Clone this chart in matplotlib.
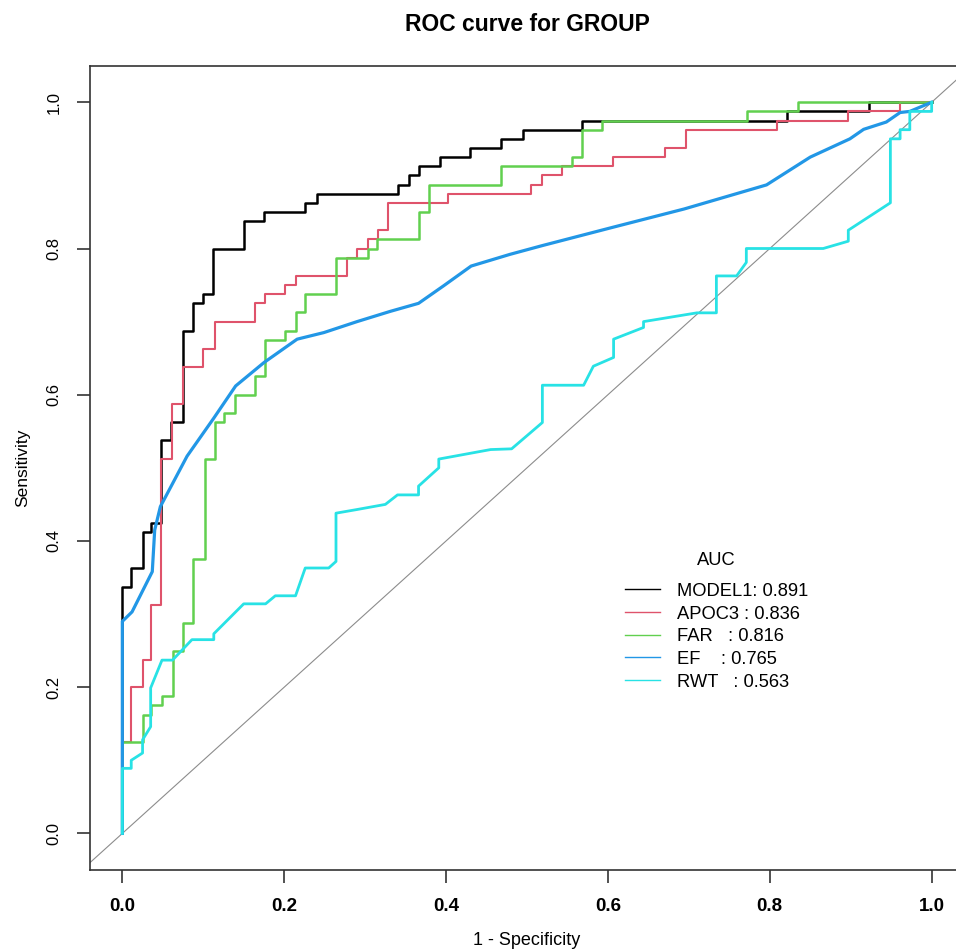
# Curvas ROC para GROUP (MODEL1, APOC3, FAR, EF, RWT)

import matplotlib
matplotlib.use('Agg')
import matplotlib.pyplot as plt
from matplotlib.lines import Line2D

plt.rcParams['font.family'] = ['Liberation Sans', 'DejaVu Sans']

# Nomes dos modelos e valores de AUC
nomes = ['MODEL1', 'APOC3', 'FAR', 'EF', 'RWT']
auc = [0.891, 0.836, 0.816, 0.765, 0.563]
cores = ['#000000', '#DF536B', '#61D04F', '#2297E6', '#28E2E5']

# Curvas em degrau (1 - especificidade, sensibilidade)
fpr_model1 = [0, 0.011, 0.025, 0.036, 0.048, 0.060, 0.075, 0.0875, 0.100, 0.1125, 0.150, 0.175, 0.226,
              0.241, 0.340, 0.354, 0.366, 0.392, 0.429, 0.468, 0.495, 0.568, 0.821, 0.923, 1.0]
tpr_model1 = [0, 0.3375, 0.3625, 0.4125, 0.425, 0.5375, 0.5625, 0.6875, 0.725, 0.7375, 0.80, 0.8375, 0.85,
              0.8625, 0.875, 0.8875, 0.90, 0.9125, 0.925, 0.9375, 0.95, 0.9625, 0.975, 0.9875, 1.0]

fpr_apoc3 = [0, 0.011, 0.025, 0.036, 0.048, 0.0615, 0.075, 0.100, 0.114, 0.1637, 0.176, 0.2007, 0.214, 0.278,
             0.290, 0.303, 0.3156, 0.328, 0.403, 0.5055, 0.519, 0.543, 0.606, 0.670, 0.696, 0.809, 0.897,
             0.961, 1.0]
tpr_apoc3 = [0, 0.125, 0.20, 0.2375, 0.3125, 0.5125, 0.5875, 0.6375, 0.6625, 0.70, 0.725, 0.7375, 0.75, 0.7625,
             0.7875, 0.80, 0.8125, 0.825, 0.8625, 0.875, 0.8875, 0.90, 0.9125, 0.925, 0.9375, 0.9625, 0.975,
             0.9875, 1.0]

fpr_far = [0, 0.025, 0.036, 0.049, 0.062, 0.075, 0.087, 0.1016, 0.114, 0.1255, 0.139, 0.164, 0.176, 0.2007,
           0.214, 0.226, 0.264, 0.303, 0.315, 0.366, 0.379, 0.468, 0.556, 0.568, 0.593, 0.772, 0.835, 1.0]
tpr_far = [0, 0.125, 0.1625, 0.175, 0.1875, 0.25, 0.2875, 0.375, 0.5125, 0.5625, 0.575, 0.60, 0.625, 0.675,
           0.6875, 0.7125, 0.7375, 0.7875, 0.80, 0.8125, 0.85, 0.8875, 0.9125, 0.925, 0.9625, 0.975, 0.9875, 1.0]

# Curvas com vértices explícitos
fpr_ef = [0, 0, 0.012, 0.037, 0.040, 0.047, 0.080, 0.113, 0.140, 0.175, 0.216, 0.249, 0.290, 0.331, 0.366,
          0.397, 0.431, 0.479, 0.519, 0.606, 0.694, 0.796, 0.850, 0.899, 0.916, 0.944, 0.961, 0.973, 1.0]
tpr_ef = [0, 0.29, 0.303, 0.358, 0.415, 0.447, 0.516, 0.568, 0.612, 0.644, 0.676, 0.685, 0.700, 0.714, 0.725,
          0.749, 0.776, 0.792, 0.804, 0.829, 0.854, 0.887, 0.925, 0.950, 0.963, 0.973, 0.986, 0.9875, 1.0]

fpr_rwt = [0, 0, 0.011, 0.011, 0.025, 0.025, 0.035, 0.035, 0.049, 0.062, 0.086, 0.113, 0.113, 0.150, 0.177,
           0.189, 0.214, 0.226, 0.255, 0.264, 0.264, 0.290, 0.325, 0.340, 0.366, 0.366, 0.391, 0.391, 0.455,
           0.481, 0.519, 0.519, 0.570, 0.582, 0.607, 0.607, 0.644, 0.644, 0.710, 0.734, 0.734, 0.759, 0.771,
           0.771, 0.866, 0.897, 0.897, 0.949, 0.949, 0.961, 0.961, 0.973, 0.973, 1.0, 1.0]
tpr_rwt = [0, 0.089, 0.089, 0.10, 0.11, 0.128, 0.146, 0.199, 0.237, 0.237, 0.265, 0.265, 0.273, 0.314, 0.314,
           0.325, 0.325, 0.363, 0.363, 0.372, 0.438, 0.443, 0.450, 0.463, 0.463, 0.475, 0.500, 0.512, 0.525,
           0.526, 0.562, 0.613, 0.613, 0.639, 0.651, 0.676, 0.692, 0.700, 0.712, 0.712, 0.7625, 0.7625, 0.781,
           0.800, 0.800, 0.810, 0.825, 0.8625, 0.950, 0.950, 0.9625, 0.9625, 0.9875, 0.9875, 1.0]

fig = plt.figure(figsize=(9.56, 9.51), dpi=100)
ax = fig.add_axes([0.0941, 0.0852, 0.9143, 0.8457])

# Linha de referência
ax.axline((0, 0), (1, 1), color='#8c8c8c', lw=0.8, zorder=1)

ax.plot(fpr_model1, tpr_model1, drawstyle='steps-pre', color=cores[0], lw=1.8, zorder=2)
ax.plot(fpr_apoc3, tpr_apoc3, drawstyle='steps-pre', color=cores[1], lw=1.5, zorder=3)
ax.plot(fpr_far, tpr_far, drawstyle='steps-pre', color=cores[2], lw=1.8, zorder=4)
ax.plot(fpr_ef, tpr_ef, color=cores[3], lw=2.3, zorder=5)
ax.plot(fpr_rwt, tpr_rwt, color=cores[4], lw=2.0, zorder=6)

ax.set_xlim(-0.04, 1.04)
ax.set_ylim(-0.05, 1.05)
ax.set_xticks([0, 0.2, 0.4, 0.6, 0.8, 1.0])
ax.set_yticks([0, 0.2, 0.4, 0.6, 0.8, 1.0])
ax.set_xticklabels(['0.0', '0.2', '0.4', '0.6', '0.8', '1.0'], fontsize=13.5, fontweight='bold')
ax.set_yticklabels(['0.0', '0.2', '0.4', '0.6', '0.8', '1.0'], fontsize=12, rotation=90, va='center')
ax.tick_params(length=9.4, width=1.1, pad=11, color='#222222')
for lado in ax.spines.values():
    lado.set_linewidth(1.2)
    lado.set_color('#333333')

ax.set_title('ROC curve for GROUP', fontsize=16.5, fontweight='bold', pad=25)
ax.set_xlabel('1 - Specificity', fontsize=13)
ax.xaxis.set_label_coords(0.5, -0.077)
ax.set_ylabel('Sensitivity', fontsize=12.5)
ax.yaxis.set_label_coords(-0.068, 0.5)

# Legenda (título "AUC" posto à parte, centrado sobre as entradas)
rotulos = [f'{n:<6}: {a:.3f}' for n, a in zip(nomes, auc)]
alcas = [Line2D([], [], color=c, lw=1.0) for c in cores]
legenda = ax.legend(alcas, rotulos, loc='upper left', bbox_to_anchor=(0.612, 0.357),
                    frameon=False, fontsize=13.2, borderpad=0, borderaxespad=0,
                    handlelength=1.9, handletextpad=0.95, labelspacing=0.31)
fig.canvas.draw()
caixa = legenda.get_window_extent().transformed(ax.transAxes.inverted())
ax.text((caixa.x0 + caixa.x1) / 2, 0.385, 'AUC', transform=ax.transAxes,
        ha='center', va='center', fontsize=13.2)

fig.savefig('out.png', dpi=100)
